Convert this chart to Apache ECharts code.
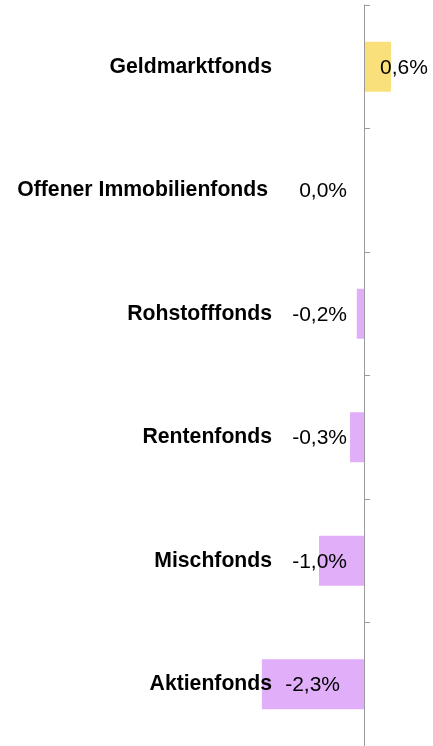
<!DOCTYPE html>
<html>
<head>
<meta charset="utf-8">
<script src="https://cdn.jsdelivr.net/npm/echarts@6/dist/echarts.min.js"></script>
<style>
html,body{margin:0;padding:0;background:#fff;}
#chart{width:433px;height:746px;}
</style>
</head>
<body>
<div id="chart"></div>
<script>
var categories = ['Geldmarktfonds', 'Offener Immobilienfonds', 'Rohstofffonds', 'Rentenfonds', 'Mischfonds', 'Aktienfonds'];
var values = [0.6, 0.0, -0.16, -0.31, -1.0, -2.27];
var valueLabels = ['0,6%', '0,0%', '-0,2%', '-0,3%', '-1,0%', '-2,3%'];

var xMin = -3, xMax = 1;
var gridLeft = 229, gridRight = 24;
var plotW = 433 - gridLeft - gridRight;
var zeroX = gridLeft + (0 - xMin) / (xMax - xMin) * plotW;

var chart = echarts.init(document.getElementById('chart'), null, {renderer: 'canvas'});
chart.setOption({
  animation: false,
  grid: {left: gridLeft, right: gridRight, top: 5, bottom: 0, containLabel: false, outerBoundsMode: 'none'},
  xAxis: {
    type: 'value', min: xMin, max: xMax, show: false
  },
  yAxis: {
    type: 'category',
    data: categories,
    inverse: true,
    z: 10,
    axisLine: {show: true, onZero: true, lineStyle: {color: '#9a9a9a', width: 1}},
    axisTick: {show: true, inside: true, length: 6, lineStyle: {color: '#9a9a9a'}},
    axisLabel: {
      margin: -43,
      color: '#000',
      fontFamily: 'Liberation Sans, Arial, sans-serif',
      fontWeight: 'bold',
      fontSize: 21.2,
      formatter: function (v) {
        return v.length > 20 ? '{w|' + v + '}' : v;
      },
      rich: {
        w: {
          color: '#000',
          fontFamily: 'Liberation Sans, Arial, sans-serif',
          fontWeight: 'bold',
          fontSize: 21.2,
          padding: [0, 4, 0, 0]
        }
      }
    },
    splitLine: {show: false}
  },
  series: [{
    type: 'bar',
    barWidth: 50,
    z: 2,
    data: values.map(function (v) {
      return {value: v, itemStyle: {color: v > 0 ? '#F9E07A' : '#E1AEF9'}};
    }),
    label: {
      show: true,
      color: '#000',
      fontFamily: 'Liberation Sans, Arial, sans-serif',
      fontSize: 21,
      formatter: function (p) { return valueLabels[p.dataIndex]; }
    },
    labelLayout: function (p) {
      var v = values[p.dataIndex];
      var cy = p.rect.y + p.rect.height / 2 + 1;
      if (v > 0) {
        return {x: zeroX + 16, y: cy, align: 'left', verticalAlign: 'middle'};
      }
      var off = v < -2 ? 24 : 17;
      return {x: zeroX - off, y: cy, align: 'right', verticalAlign: 'middle'};
    }
  }]
});
</script>
</body>
</html>
